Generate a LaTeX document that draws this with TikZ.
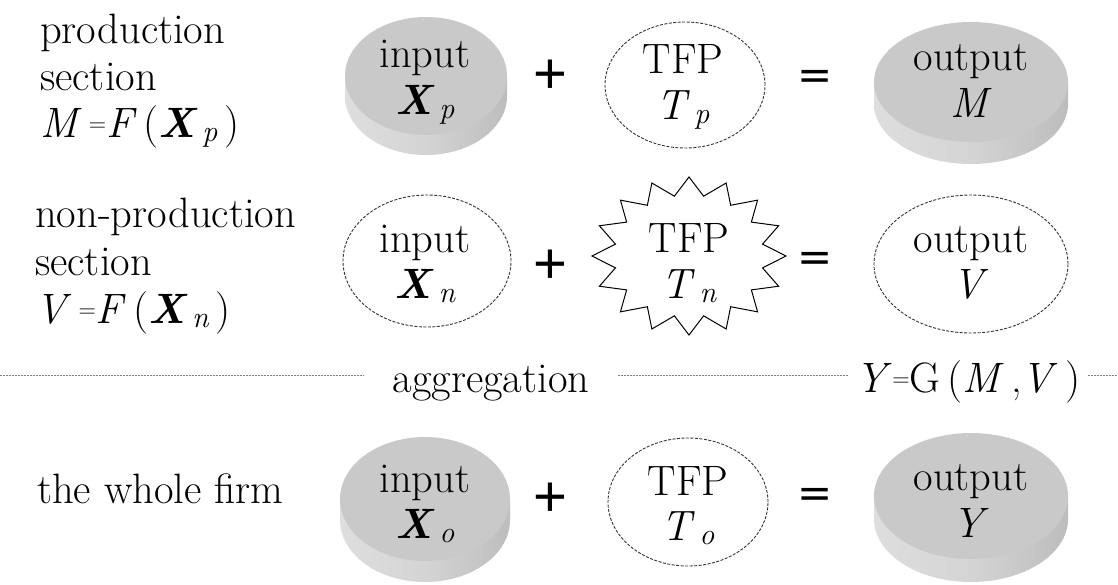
\documentclass[tikz,border=0pt]{standalone}
\usepackage{fontspec}
\newfontfamily\signfont{DejaVu Sans}
\newfontfamily\plusfont{Liberation Sans}
\definecolor{face}{HTML}{C9C9C9}
\definecolor{sidedark}{HTML}{BDBDBD}
\definecolor{sidelight}{HTML}{DEDEDE}
\newcommand\mycyl[5]{%
  \shade[left color=sidelight, right color=sidedark, middle color=sidelight!70!sidedark]
    (#1-#3,#2) rectangle (#1+#3,#2+#5);
  \shade[left color=sidelight, right color=sidedark, middle color=sidelight!70!sidedark]
    (#1,#2+#5) ellipse[x radius=#3pt, y radius=#4pt];
  \fill[face] (#1,#2) ellipse[x radius=#3pt, y radius=#4pt];
}
\newcommand\sub[1]{\hspace{0.1em}\raisebox{-0.1em}{\fontsize{30}{30}\selectfont\itshape #1}}
\newcommand\BX{\textbf{\textit{X}}}
\newcommand\smeq{{\fontsize{24}{24}\selectfont\raisebox{0.25em}{=}}}
\tikzset{
  lbl/.style={font=\fontsize{42.5}{50}\selectfont, inner sep=0pt, anchor=base},
  lblw/.style={lbl, anchor=base west},
  sign/.style={font=\signfont\fontsize{42}{42}\selectfont, inner sep=0pt},
  plussign/.style={font=\plusfont\fontsize{58}{58}\selectfont, inner sep=0pt},
  dashell/.style={draw=black!80, dash pattern=on 3pt off 1.5pt, line width=0.9pt},
  aggline/.style={draw=black!50, dash pattern=on 2pt off 1pt, line width=0.9pt},
  starline/.style={draw=black, line width=1pt, line join=miter},
  gaptext/.style={lbl, inner xsep=8pt, inner ysep=0pt}
}
\begin{document}
\begin{tikzpicture}[x=1pt, y=-1pt]
\useasboundingbox (0,0) rectangle (1118,584);

% ---------- left labels ----------
\node[lblw] (l1a) at (40,43) {production};
\node[lblw] (l1b) at (40,90) {section};
\node[lblw] (l1c) at (40,137) {\textit{M}\,\smeq\textit{F}\,(\BX\sub{p}\,)};
\node[lblw] (l2a) at (35,227) {non-production};
\node[lblw] (l2b) at (35,275) {section};
\node[lblw] (l2c) at (35,323) {\textit{V}\,\smeq\textit{F}\,(\BX\sub{n}\,)};
\node[lblw] (l3a) at (37,503) {the whole firm};

% ---------- row 1 ----------
\mycyl{426}{76}{81}{59}{20}
\node[lbl] (in1a) at (425,67) {input};
\node[lbl] (in1b) at (425,114) {\BX\sub{p}};
\node[plussign] (plus1) at (550,77) {+};
\draw[dashell] (685,85) ellipse[x radius=80pt, y radius=63pt];
\node[lbl] (t1a) at (683,73) {TFP};
\node[lbl] (t1b) at (683,119) {\textit{T}\sub{p}};
\node[sign] (eq1) at (815,80) {=};
\mycyl{971}{82}{97}{60}{22}
\node[lbl] (o1a) at (971,70) {output};
\node[lbl] (o1b) at (971,117) {\textit{M}};

% ---------- row 2 ----------
\draw[dashell] (427,261) ellipse[x radius=84pt, y radius=66pt];
\node[lbl] (in2a) at (425,252) {input};
\node[lbl] (in2b) at (425,298) {\BX\sub{n}};
\node[plussign] (plus2) at (550,267) {+};
\draw[starline] plot[samples at={0,...,31}, variable=\k]
  ({689+ifthenelse(mod(\k,2)==0,97,75)*cos(90+11.25*\k)},
   {256-ifthenelse(mod(\k,2)==0,79,61)*sin(90+11.25*\k)}) -- cycle;
\node[lbl] (t2a) at (689,252) {TFP};
\node[lbl] (t2b) at (689,298) {\textit{T}\sub{n}};
\node[sign] (eq2) at (815,262) {=};
\draw[dashell] (971,264) ellipse[x radius=97pt, y radius=69pt];
\node[lbl] (o2a) at (971,252) {output};
\node[lbl] (o2b) at (971,298) {\textit{V}};

% ---------- aggregation ----------
\coordinate (L) at (0,375);
\coordinate (R) at (1118,375);
\node[gaptext, inner xsep=28pt] (agg) at (491,392) {aggregation};
\node[gaptext] (form) at (968,392) {\textit{Y}\smeq G\,(\textit{M}\,,\textit{V}\,)};
\draw[aggline] (L) -- (L -| agg.west);
\draw[aggline] (L -| agg.east) -- (L -| form.west);
\draw[aggline] (L -| form.east) -- (R);

% ---------- row 3 ----------
\mycyl{425}{499}{85}{62}{21}
\node[lbl] (in3a) at (425,492) {input};
\node[lbl] (in3b) at (425,538) {\BX\sub{o}};
\node[plussign] (plus3) at (550,500) {+};
\draw[dashell] (688,502) ellipse[x radius=80pt, y radius=64pt];
\node[lbl] (t3a) at (688,495) {TFP};
\node[lbl] (t3b) at (688,540) {\textit{T}\sub{o}};
\node[sign] (eq3) at (815,498) {=};
\mycyl{971}{496}{97}{63}{23}
\node[lbl] (o3a) at (971,490) {output};
\node[lbl] (o3b) at (971,537) {\textit{Y}};
\end{tikzpicture}
\end{document}
